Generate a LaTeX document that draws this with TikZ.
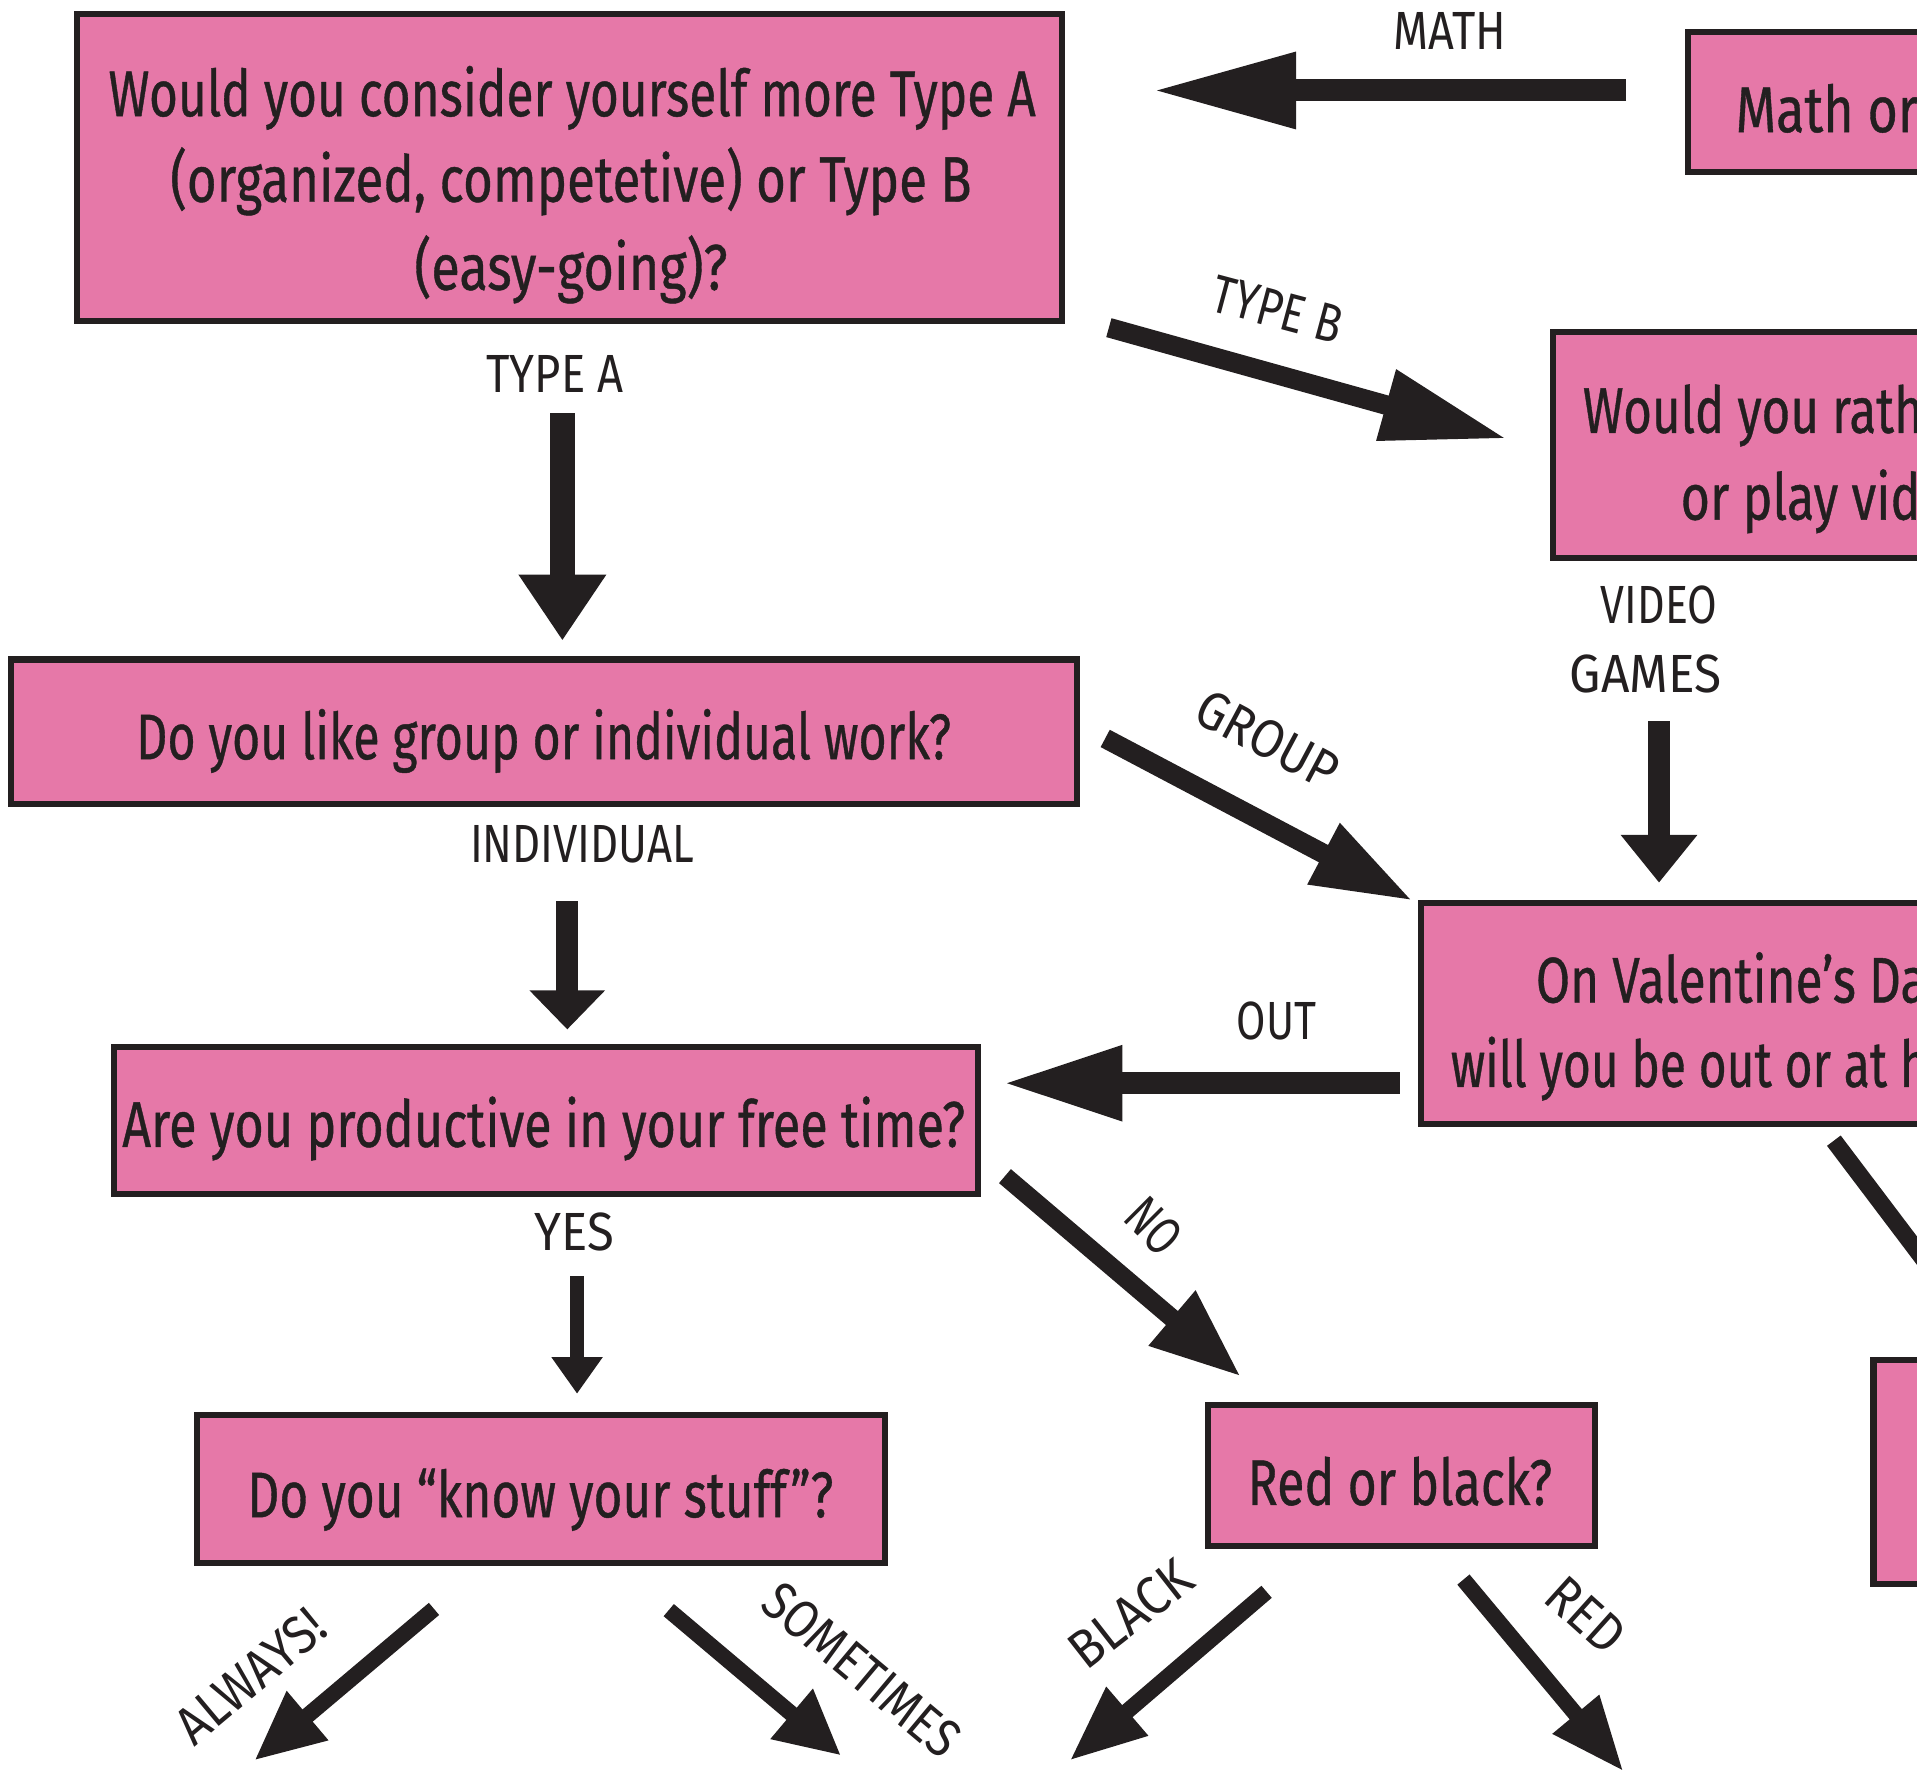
\documentclass[tikz,border=0pt]{standalone}
\usepackage{fontspec}
\setmainfont{Fira Sans}
\newfontfamily\boxfont[FakeBold=0.7]{Fira Sans}
\usetikzlibrary{arrows.meta}
\definecolor{boxpink}{HTML}{E678A8}
\definecolor{ink}{HTML}{231F20}
\newcommand\fitw[2]{\resizebox{#1}{\height}{#2}}
\begin{document}
\begin{tikzpicture}[x=0.01cm,y=-0.01cm,
  qbox/.style={draw=ink, fill=boxpink, line width=0.05cm, rectangle, inner sep=0pt},
  qtext/.style={anchor=base, inner sep=0pt, text=ink, font=\boxfont\fontsize{15}{18}\selectfont},
  qtextw/.style={anchor=base west, inner sep=0pt, text=ink, font=\boxfont\fontsize{15}{18}\selectfont},
  lbl/.style={inner sep=0pt, text=ink, font=\fontsize{12.5}{15}\selectfont},
  arr/.style n args={3}{draw=ink, line width=#1, -{Triangle[length=#2,width=#3]}},
]
\useasboundingbox (0,0) rectangle (1568,1451);
\clip (0,0) rectangle (1568,1451);

% boxes
\node[qbox, minimum width=8.05cm, minimum height=2.51cm] (q1) at (466,137) {};
\node[qbox, minimum width=4.17cm, minimum height=1.14cm] (q2) at (1589,83.5) {};
\node[qbox, minimum width=5.27cm, minimum height=1.85cm] (q3) at (1534,364) {};
\node[qbox, minimum width=8.71cm, minimum height=1.18cm] (q4) at (445,598.5) {};
\node[qbox, minimum width=6.35cm, minimum height=1.805cm] (q5) at (1480,828.75) {};
\node[qbox, minimum width=7.06cm, minimum height=1.20cm] (q6) at (446.5,916.5) {};
\node[qbox, minimum width=5.62cm, minimum height=1.215cm] (q7) at (442.5,1218) {};
\node[qbox, minimum width=3.16cm, minimum height=1.15cm] (q8) at (1146.5,1207) {};
\node[qbox, minimum width=2.65cm, minimum height=1.83cm] (q9) at (1665,1204) {};

% box texts
\node[qtext] (t1a) at (468,95) {\fitw{7.58cm}{Would you consider yourself more Type A}};
\node[qtext] (t1b) at (467,165) {\fitw{6.55cm}{(organized, competetive) or Type B}};
\node[qtext] (t1c) at (467,237) {\fitw{2.56cm}{(easy-going)?}};
\node[qtextw] (t2) at (1419,108) {\fitw{1.49cm}{Math or}};
\node[qtextw] (t3a) at (1294,354) {\fitw{2.78cm}{Would you rath}};
\node[qtextw] (t3b) at (1374,425) {\fitw{1.96cm}{or play vid}};
\node[qtext] (t4) at (444.7,621) {\fitw{6.66cm}{Do you like group or individual work?}};
\node[qtextw] (t5a) at (1255.6,820) {\fitw{3.20cm}{On Valentine’s Da}};
\node[qtextw] (t5b) at (1186,889) {\fitw{3.90cm}{will you be out or at h}};
\node[qtext] (t6) at (444.7,938) {\fitw{6.89cm}{Are you productive in your free time?}};
\node[qtext] (t7) at (442,1241) {\fitw{4.79cm}{Do you “know your stuff”?}};
\node[qtext] (t8) at (1145,1231) {\fitw{2.49cm}{Red or black?}};

% labels
\node[lbl] (lmath) at (1186,25) {\fitw{0.92cm}{MATH}};
\node[lbl, rotate=-15] (ltb) at (1045,253) {\fitw{1.08cm}{TYPE B}};
\node[lbl] (lta) at (454,305.5) {\fitw{1.12cm}{TYPE A}};
\node[lbl] (lvid) at (1357,495) {\fitw{0.95cm}{VIDEO}};
\node[lbl] (lgam) at (1346,551.5) {\fitw{1.24cm}{GAMES}};
\node[lbl, rotate=-28] (lgrp) at (1037,605) {\fitw{1.25cm}{GROUP}};
\node[lbl] (lind) at (476,691) {\fitw{1.83cm}{INDIVIDUAL}};
\node[lbl] (lout) at (1044,835) {\fitw{0.65cm}{OUT}};
\node[lbl] (lyes) at (469.5,1008) {\fitw{0.65cm}{YES}};
\node[lbl, rotate=-45] (lno) at (944,1003) {\fitw{0.45cm}{NO}};
\node[lbl, rotate=40] (lalw) at (205,1371) {\fitw{1.45cm}{ALWAYS!}};
\node[lbl, rotate=-40] (lsom) at (705,1366) {\fitw{1.95cm}{SOMETIMES}};
\node[lbl, rotate=38] (lblk) at (925,1320) {\fitw{1.15cm}{BLACK}};
\node[lbl, rotate=-42] (lred) at (1297,1321) {\fitw{0.70cm}{RED}};

% arrow end points
\coordinate (mS) at (1330,74);   \coordinate (mE) at (942,74);
\coordinate (bS) at (907,268);   \coordinate (bE) at (1233,359);
\coordinate (aS) at (460,338);   \coordinate (aE) at (460,524);
\coordinate (vS) at (1357,590);  \coordinate (vE) at (1357,722);
\coordinate (gS) at (904,604);   \coordinate (gE) at (1156,737);
\coordinate (iS) at (464,737);   \coordinate (iE) at (464,842);
\coordinate (oS) at (1145,886);  \coordinate (oE) at (820,886);
\coordinate (nS) at (822,962);   \coordinate (nE) at (1015,1126);
\coordinate (yS) at (472,1044);  \coordinate (yE) at (472,1140);
\coordinate (alS) at (355,1316); \coordinate (alE) at (208,1440);
\coordinate (soS) at (547,1317); \coordinate (soE) at (688,1436);
\coordinate (blS) at (1036,1302);\coordinate (blE) at (875,1440);
\coordinate (reS) at (1197,1292);\coordinate (reE) at (1328,1449);
\coordinate (hoS) at (1500,933); \coordinate (hoE) at (1630,1105);

% arrows
\draw[arr={0.18cm}{1.18cm}{0.58cm}] (mS) -- (mE);
\draw[arr={0.16cm}{1.03cm}{0.56cm}] (bS) -- (bE);
\draw[arr={0.20cm}{0.54cm}{0.68cm}] (aS) -- (aE);
\draw[arr={0.18cm}{0.39cm}{0.60cm}] (vS) -- (vE);
\draw[arr={0.16cm}{0.83cm}{0.52cm}] (gS) -- (gE);
\draw[arr={0.18cm}{0.32cm}{0.60cm}] (iS) -- (iE);
\draw[arr={0.18cm}{0.98cm}{0.57cm}] (oS) -- (oE);
\draw[arr={0.15cm}{0.74cm}{0.55cm}] (nS) -- (nE);
\draw[arr={0.11cm}{0.30cm}{0.40cm}] (yS) -- (yE);
\draw[arr={0.13cm}{0.57cm}{0.49cm}] (alS) -- (alE);
\draw[arr={0.13cm}{0.53cm}{0.50cm}] (soS) -- (soE);
\draw[arr={0.13cm}{0.62cm}{0.49cm}] (blS) -- (blE);
\draw[arr={0.13cm}{0.61cm}{0.46cm}] (reS) -- (reE);
\draw[arr={0.14cm}{0.60cm}{0.50cm}] (hoS) -- (hoE);
\end{tikzpicture}
\end{document}
